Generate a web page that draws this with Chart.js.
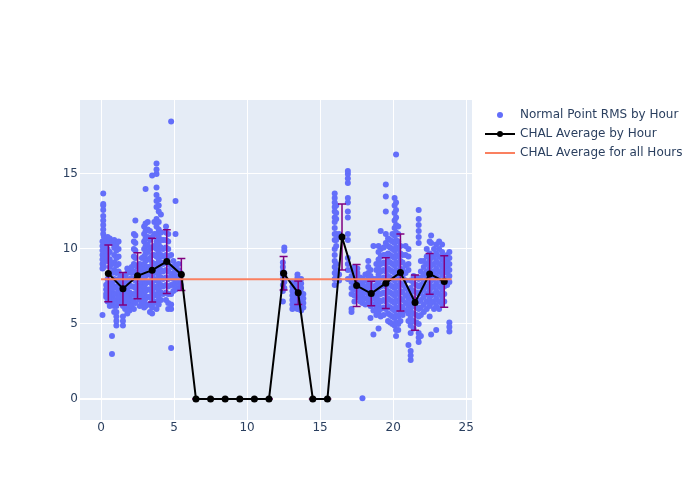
<!DOCTYPE html>
<html>
<head>
<meta charset="utf-8">
<script src="https://cdn.jsdelivr.net/npm/chart.js@4.4.1/dist/chart.umd.min.js"></script>
<style>
  html, body { margin: 0; padding: 0; background: #fff; }
  #wrap { width: 700px; height: 500px; position: relative; }
</style>
</head>
<body>
<div id="wrap"><canvas id="rmsChart" width="700" height="500"></canvas></div>
<script>
// Normal point RMS samples, grouped by pass: [hour of day, [rms values...]]
const rmsPasses = [
  [0.1, [5.6, 8.7, 9.0, 9.3, 9.6, 9.9, 10.2, 10.5]],
  [0.15, [11.0, 11.3, 11.6, 11.9, 12.2, 12.6, 12.9, 13.0, 13.7, 9.5, 8.9]],
  [0.2, [10.8, 10.4, 10.0, 9.7, 9.4, 9.1, 8.8]],
  [0.35, [6.8, 7.0, 7.3, 7.6, 9.5, 9.8, 10.3, 10.7]],
  [0.45, [6.5, 6.8, 7.1, 7.4, 7.7, 8.0, 9.2, 9.6, 10.0, 10.4, 10.8]],
  [0.6, [6.2, 6.6, 7.0, 7.4, 7.8, 8.3, 8.8, 9.3, 9.8, 10.7]],
  [0.75, [3.0, 4.2, 6.3, 6.8, 7.2, 7.7, 8.4, 9.0, 10.4]],
  [0.9, [5.8, 6.2, 6.6, 7.0, 7.5, 8.0, 8.6, 9.1, 9.6, 10.1, 10.6]],
  [1.05, [4.9, 5.2, 5.5, 5.8, 6.2, 6.6, 7.0, 7.4, 7.9, 8.4, 8.9, 9.4, 9.9, 10.3]],
  [1.2, [6.4, 6.8, 7.2, 7.6, 8.0, 8.5, 9.0, 9.5, 10.0, 10.5]],
  [1.35, [6.5, 6.9, 7.3, 7.8, 8.2]],
  [1.5, [4.9, 5.2, 5.5, 6.2, 6.6, 7.0, 7.5]],
  [1.65, [6.0, 6.4, 6.8, 7.3, 7.8, 8.2]],
  [1.8, [5.7, 6.1, 6.6, 7.0, 7.4, 7.9, 8.4, 8.7]],
  [1.95, [5.9, 6.3, 6.7, 7.1, 7.6, 8.0, 8.5]],
  [2.1, [6.2, 6.6, 7.0, 7.5, 8.0, 8.4, 8.8]],
  [2.25, [6.0, 6.5, 7.0, 7.5, 8.0, 8.5, 9.0, 9.5, 10.0, 10.5, 11.0]],
  [2.35, [6.4, 6.9, 7.4, 7.9, 8.4, 8.9, 9.4, 9.9, 10.4, 10.9, 11.9]],
  [2.5, [6.8, 7.2, 7.6, 8.0, 8.4, 8.8]],
  [2.65, [6.2, 6.6, 7.0, 7.5, 8.0, 8.5, 9.0]],
  [2.8, [6.4, 6.8, 7.3, 7.8, 8.3, 8.8, 9.4]],
  [2.95, [6.1, 6.5, 7.0, 7.5, 8.0, 8.5, 9.0, 9.5, 10.0, 10.5, 11.0, 11.5]],
  [3.05, [6.2, 6.7, 7.2, 7.7, 8.2, 8.7, 9.2, 9.7, 10.2, 10.7, 11.2, 11.7, 14.0]],
  [3.2, [6.3, 6.8, 7.3, 7.8, 8.3, 8.8, 9.3, 9.8, 10.3, 10.8, 11.3, 11.8]],
  [3.35, [5.8, 6.3, 6.8, 7.3, 7.8, 8.3, 8.8, 9.4, 10.0, 10.6, 11.2]],
  [3.5, [5.7, 6.1, 6.6, 7.1, 7.6, 8.1, 8.6, 9.1, 9.6, 10.1, 10.8, 14.9]],
  [3.65, [6.4, 6.9, 7.4, 7.9, 8.4, 9.0, 9.6, 10.2, 11.0, 11.8]],
  [3.8, [6.0, 6.5, 7.0, 7.5, 8.0, 8.5, 9.0, 9.5, 10.0, 10.5, 11.0, 11.5, 12.0, 12.8, 13.2, 13.6, 14.1, 15.0, 15.3, 15.7]],
  [3.95, [6.3, 6.8, 7.3, 7.8, 8.3, 8.8, 9.3, 9.8, 10.3, 10.8, 11.3, 11.8, 12.5, 12.9, 13.3]],
  [4.1, [6.6, 7.1, 7.6, 8.1, 8.6, 9.1, 9.6, 10.1, 10.6, 11.1, 12.3]],
  [4.25, [7.0, 7.5, 8.0, 8.5, 9.0, 9.5, 10.0, 10.6]],
  [4.45, [6.6, 7.1, 7.6, 8.1, 8.6, 9.1, 9.6, 10.1, 10.6, 11.1, 11.5]],
  [4.6, [6.0, 6.4, 7.0, 7.5, 8.0, 8.5, 9.0, 9.5, 10.0, 10.5, 11.0]],
  [4.8, [3.4, 6.0, 6.3, 7.0, 7.6, 8.2, 8.8, 9.6, 18.5]],
  [4.95, [7.2, 7.6, 8.0, 8.4, 8.8, 9.2]],
  [5.1, [7.3, 7.7, 8.1, 8.5, 8.9, 11.0, 13.2]],
  [5.3, [7.4, 7.8, 8.2, 8.6, 9.0]],
  [5.45, [7.6, 8.0, 8.4]],
  [12.45, [6.5, 7.2, 7.6, 8.0, 8.3, 8.5, 8.8, 9.1]],
  [12.55, [7.4, 7.8, 8.2, 8.4, 9.9, 10.1]],
  [13.1, [6.0, 6.3, 6.6, 6.9, 7.2, 7.5, 7.8]],
  [13.25, [6.2, 6.5, 6.8, 7.1, 7.4, 7.7]],
  [13.45, [6.0, 6.3, 6.6, 6.9, 7.2, 7.5, 7.8, 8.1, 8.3]],
  [13.7, [5.9, 6.2, 6.5, 6.8, 7.1, 7.4, 7.7, 8.0]],
  [13.85, [6.1, 6.4, 6.7, 7.0]],
  [16.0, [7.6, 8.0, 8.4, 8.8, 9.2, 9.6, 10.0, 10.6, 11.0, 11.4, 11.8, 12.1, 12.5, 12.8, 13.1, 13.4, 13.7]],
  [16.1, [8.2, 8.6, 9.0, 10.2, 10.6, 11.0, 12.0, 12.4, 12.9]],
  [16.3, [7.9, 8.3, 10.9, 11.0]],
  [16.9, [8.0, 8.6, 9.0, 9.4, 10.6, 11.0, 12.1, 12.5, 13.1, 13.4, 14.4, 14.7, 15.0, 15.2]],
  [17.15, [5.8, 6.0, 7.0, 7.4, 7.8, 8.2, 8.6]],
  [17.35, [6.5, 6.9, 7.3, 7.7, 8.1, 8.5, 8.8]],
  [17.55, [6.8, 7.2, 7.6, 8.0, 8.4, 8.7]],
  [17.75, [6.5, 6.9, 7.3, 7.7, 8.1]],
  [17.9, [0.05, 6.4, 6.8, 7.2, 7.6, 8.0]],
  [18.1, [6.3, 6.7, 7.1, 7.5, 7.9, 8.3]],
  [18.3, [6.4, 6.8, 7.2, 7.6, 8.0, 8.4, 8.8, 9.2]],
  [18.45, [5.4, 6.2, 6.6, 7.0, 7.4, 7.8, 8.2, 8.6]],
  [18.65, [4.3, 5.9, 6.3, 6.7, 7.1, 7.5, 8.0, 10.2]],
  [18.85, [5.6, 6.0, 6.4, 6.8, 7.2, 7.6, 8.0, 8.6, 9.0]],
  [19.0, [4.7, 5.8, 6.2, 6.6, 7.0, 7.4, 7.8, 8.3, 8.8, 9.3, 9.8, 10.2]],
  [19.15, [5.5, 6.0, 6.5, 7.0, 7.5, 8.0, 8.5, 9.0, 9.5, 10.0, 11.2]],
  [19.35, [5.6, 6.1, 6.6, 7.1, 7.6, 8.1, 8.6, 9.1, 9.6, 10.1]],
  [19.5, [6.0, 6.5, 7.0, 7.5, 8.0, 8.5, 9.0, 9.6, 10.4, 11.0, 12.5, 13.5, 14.3]],
  [19.65, [5.2, 5.7, 6.2, 6.7, 7.2, 7.7, 8.2, 8.7, 9.2, 9.7, 10.2, 10.7]],
  [19.8, [5.1, 5.6, 6.1, 6.6, 7.1, 7.6, 8.1, 8.6, 9.1, 9.6, 10.1, 10.6]],
  [19.95, [5.0, 5.5, 6.0, 6.5, 7.0, 7.5, 8.0, 8.5, 9.0, 9.5, 10.0, 10.5, 11.0]],
  [20.1, [4.9, 5.4, 5.9, 6.4, 6.9, 7.4, 7.9, 8.4, 8.9, 9.4, 9.9, 10.4, 10.9, 11.4, 11.9, 12.4, 12.9, 13.4]],
  [20.2, [4.2, 4.6, 5.1, 5.6, 6.1, 6.6, 7.1, 7.6, 8.1, 8.6, 9.1, 9.6, 10.1, 10.6, 11.1, 11.6, 12.1, 12.6, 13.1, 16.3]],
  [20.35, [4.6, 5.0, 5.5, 6.0, 6.5, 7.0, 7.5, 8.0, 8.5, 9.0, 9.5, 10.0, 10.5, 11.0, 11.5]],
  [20.5, [5.2, 5.7, 6.2, 6.7, 7.2, 7.7, 8.2, 8.7, 9.2, 9.7, 10.2]],
  [20.65, [5.6, 6.1, 6.6, 7.1, 7.6, 8.1, 8.6, 9.1, 9.6]],
  [20.85, [5.9, 6.4, 6.9, 7.4, 7.9, 8.4, 8.9, 9.6, 10.2]],
  [21.05, [3.6, 5.2, 5.7, 6.2, 6.7, 7.2, 8.6, 9.0, 9.5, 10.0]],
  [21.2, [2.6, 2.9, 3.2, 4.4, 4.9, 5.4, 5.9, 6.4, 6.9, 7.4, 7.9]],
  [21.4, [4.7, 5.2, 5.7, 6.2, 6.7, 7.2, 7.7, 8.2]],
  [21.6, [5.1, 5.6, 6.1, 6.6, 7.1, 7.6, 8.1]],
  [21.75, [3.8, 4.1, 4.4, 5.0, 5.5, 6.0, 6.5, 7.0, 7.5, 8.0, 10.4, 10.8, 11.2, 11.6, 12.0, 12.6]],
  [21.9, [4.2, 5.6, 6.1, 6.6, 7.1, 7.6, 8.1, 8.5, 9.2]],
  [22.1, [5.8, 6.3, 6.8, 7.3, 7.8, 8.3, 8.8, 9.2]],
  [22.3, [6.0, 6.5, 7.0, 7.5, 8.0, 8.5, 9.0, 9.5, 10.0]],
  [22.5, [5.5, 6.2, 6.7, 7.2, 7.7, 8.2, 8.7, 9.2, 9.7, 10.5]],
  [22.6, [4.3, 6.4, 6.9, 7.4, 7.9, 8.4, 8.9, 9.4, 10.4, 10.9]],
  [22.8, [6.0, 6.5, 7.0, 7.5, 8.0, 8.5, 9.0, 9.5, 10.0]],
  [22.95, [4.6, 6.2, 6.7, 7.2, 7.7, 8.2, 8.7, 9.2, 9.7, 10.3]],
  [23.15, [6.0, 6.5, 7.0, 7.5, 8.0, 8.5, 9.0, 9.5, 10.0, 10.5]],
  [23.35, [6.3, 6.8, 7.3, 7.8, 8.3, 8.8, 9.3, 9.8, 10.3]],
  [23.5, [6.5, 7.0, 7.5, 8.0, 8.5, 9.0, 9.5]],
  [23.7, [7.6, 8.0, 8.4, 8.8, 9.2, 9.6]],
  [23.85, [4.5, 4.8, 5.1, 7.8, 8.2, 8.6, 9.0, 9.4, 9.8]]
];

// hourly averages (plotted at the middle of each hour) and their std dev
const avgHours = [0.5, 1.5, 2.5, 3.5, 4.5, 5.5, 6.5, 7.5, 8.5, 9.5, 10.5, 11.5,
  12.5, 13.5, 14.5, 15.5, 16.5, 17.5, 18.5, 19.5, 20.5, 21.5, 22.5, 23.5];
const avgValues = [8.37, 7.35, 8.21, 8.59, 9.16, 8.30, 0, 0, 0, 0, 0, 0,
  8.38, 7.08, 0, 0, 10.8, 7.56, 7.03, 7.72, 8.43, 6.43, 8.34, 7.83];
const avgStd = [1.89, 1.09, 1.53, 2.12, 2.12, 1.07, 0, 0, 0, 0, 0, 0,
  1.12, 0.78, 0, 0, 2.2, 1.4, 0.82, 1.69, 2.56, 1.84, 1.36, 1.72];

// average over all hours
const allHoursX = [0, 24];
const allHoursY = [7.99, 7.99];

const xTickValues = [0, 5, 10, 15, 20, 25];
const yTickValues = [0, 5, 10, 15];

const FONT = '"DejaVu Sans", Verdana, sans-serif';
const TEXT = '#2a3f5f';

const rmsPoints = [];
rmsPasses.forEach(([h, vals]) => {
  vals.forEach(v => rmsPoints.push({ x: h, y: v }));
});

// purple error bars drawn just before the hourly average line
const errorBars = {
  id: 'errorBars',
  beforeDatasetDraw(chart, args) {
    if (args.index !== 1) return;
    const { ctx, scales: { x, y } } = chart;
    ctx.save();
    ctx.strokeStyle = '#800080';
    ctx.lineWidth = 1.5;
    avgHours.forEach((h, i) => {
      const px = x.getPixelForValue(h);
      const top = y.getPixelForValue(avgValues[i] + avgStd[i]);
      const bot = y.getPixelForValue(avgValues[i] - avgStd[i]);
      ctx.beginPath();
      ctx.moveTo(px, top); ctx.lineTo(px, bot);
      ctx.moveTo(px - 4, top); ctx.lineTo(px + 4, top);
      ctx.moveTo(px - 4, bot); ctx.lineTo(px + 4, bot);
      ctx.stroke();
    });
    ctx.restore();
  }
};

// plot background
const plotBg = {
  id: 'plotBg',
  beforeDraw(chart) {
    const { ctx, chartArea: a } = chart;
    ctx.save();
    ctx.fillStyle = '#e5ecf6';
    ctx.fillRect(a.left, a.top, a.right - a.left, a.bottom - a.top);
    ctx.restore();
  }
};

// plotly style legend on the right
const sideLegend = {
  id: 'sideLegend',
  afterDraw(chart) {
    const { ctx } = chart;
    const ds = chart.data.datasets;
    ctx.save();
    ctx.font = '12px ' + FONT;
    ctx.textBaseline = 'middle';
    ds.forEach((d, i) => {
      const yy = 115 + i * 19;
      if (d.showLine === false) {
        ctx.fillStyle = d.backgroundColor;
        ctx.beginPath(); ctx.arc(500, yy, 3, 0, Math.PI * 2); ctx.fill();
      } else {
        ctx.strokeStyle = d.borderColor;
        ctx.lineWidth = 2;
        ctx.beginPath(); ctx.moveTo(485, yy); ctx.lineTo(515, yy); ctx.stroke();
        if (d.pointRadius > 0) {
          ctx.fillStyle = d.pointBackgroundColor;
          ctx.beginPath(); ctx.arc(500, yy, 3, 0, Math.PI * 2); ctx.fill();
        }
      }
      ctx.fillStyle = TEXT;
      ctx.fillText(d.label, 520, yy);
    });
    ctx.restore();
  }
};

new Chart(document.getElementById('rmsChart'), {
  type: 'scatter',
  data: {
    datasets: [
      {
        label: 'Normal Point RMS by Hour',
        data: rmsPoints,
        showLine: false,
        pointRadius: 3,
        pointBorderWidth: 0,
        backgroundColor: '#636efa',
        order: 3
      },
      {
        label: 'CHAL Average by Hour',
        data: avgHours.map((h, i) => ({ x: h, y: avgValues[i] })),
        showLine: true,
        borderColor: '#000',
        borderWidth: 2,
        pointRadius: 3.5,
        pointBorderWidth: 0,
        pointBackgroundColor: '#000',
        order: 2
      },
      {
        label: 'CHAL Average for all Hours',
        data: allHoursX.map((h, i) => ({ x: h, y: allHoursY[i] })),
        showLine: true,
        borderColor: '#fa8060',
        borderWidth: 2,
        pointRadius: 0,
        order: 1
      }
    ]
  },
  options: {
    responsive: false,
    animation: false,
    layout: { padding: { left: 40, right: 228, top: 100, bottom: 50 } },
    plugins: {
      legend: { display: false },
      tooltip: { enabled: false }
    },
    scales: {
      x: {
        type: 'linear',
        min: -1.44,
        max: 25.4,
        afterBuildTicks: s => { s.ticks = xTickValues.map(v => ({ value: v })); },
        afterFit: s => { s.height = 30; },
        grid: { color: '#fff', lineWidth: 1, drawTicks: false },
        border: { display: false },
        ticks: { color: TEXT, font: { family: FONT, size: 12 }, padding: 1 }
      },
      y: {
        min: -1.4,
        max: 19.93,
        afterBuildTicks: s => { s.ticks = yTickValues.map(v => ({ value: v })); },
        afterFit: s => { s.width = 40; },
        grid: { color: '#fff', lineWidth: c => (c.tick && c.tick.value === 0 ? 2 : 1), drawTicks: false },
        border: { display: false },
        ticks: { color: TEXT, font: { family: FONT, size: 12 }, padding: 2 }
      }
    }
  },
  plugins: [plotBg, errorBars, sideLegend]
});
</script>
</body>
</html>
